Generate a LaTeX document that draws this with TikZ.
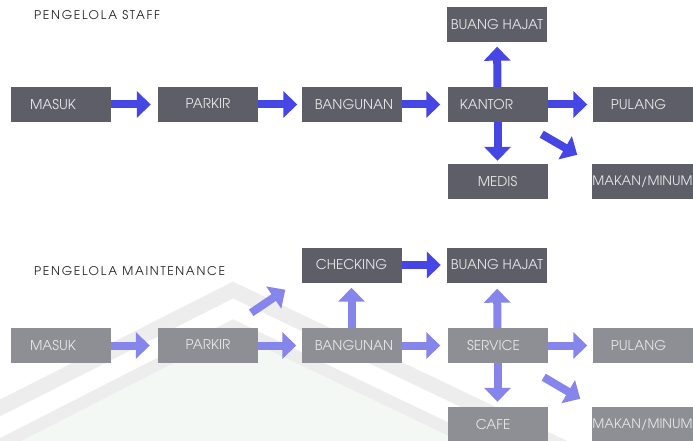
\documentclass[tikz,border=0pt]{standalone}
\usepackage{fontspec}
\setmainfont{texgyreadventor-regular.otf}
\usetikzlibrary{arrows.meta}
\definecolor{boxdark}{HTML}{5E5E69}
\definecolor{boxlight}{HTML}{8E8E95}
\definecolor{arrdark}{HTML}{4646E4}
\definecolor{arrlight}{HTML}{8585EC}
\definecolor{wmgray}{HTML}{EDEDED}
\definecolor{wmgreen}{HTML}{F3F8F5}
\begin{document}
\begin{tikzpicture}[x=1pt,y=-1pt,
  box/.style={fill=boxdark, minimum width=100pt, minimum height=35pt, inner sep=0pt,
    text=white!90!black, font=\fontsize{13.5}{15}\selectfont},
  lbox/.style={box, fill=boxlight},
  wide/.style={font=\fontsize{13}{15}\selectfont},
  flow/.style={draw=arrdark, line width=8pt, -{Triangle[length=14pt,width=26pt]}},
  lflow/.style={flow, draw=arrlight},
  heading/.style={font=\fontsize{12}{14}\selectfont\addfontfeatures{LetterSpace=14},
    text=black!85, anchor=base west, inner sep=0pt}]

\useasboundingbox (0,0) rectangle (693,441);
\fill[white] (0,0) rectangle (693,441);

% faint logo in the background of the lower chart
\begin{scope}
  \clip (0,0) rectangle (693,441);
  \fill[wmgreen] (-10,455) -- (233,330) -- (705,555) -- (705,460) -- (-10,460) -- cycle;
  \draw[wmgray, line width=15pt] (-10,413) -- (233,290) -- (705,515);
  \draw[wmgray, line width=12pt] (-10,450) -- (233,326) -- (705,552);
\end{scope}

% staff flow
\node[heading] (t1) at (34,20) {PENGELOLA STAFF};
\node[box] (m1) at (61,104.5) {\raisebox{-2pt}{MASUK}\hspace*{16pt}};
\node[box] (p1) at (208,104.5) {\raisebox{1pt}{PARKIR}};
\node[box] (b1) at (351.5,104.5) {\hspace*{5pt}BANGUNAN};
\node[box] (k1) at (497.5,104.5) {KANTOR\hspace*{22pt}};
\node[box] (h1) at (497,25) {BUANG HAJAT};
\node[box] (d1) at (497.5,181.5) {MEDIS};
\node[box] (u1) at (642.5,104.5) {PULANG\hspace*{8pt}};
\node[box, wide] (n1) at (642.5,181.5) {MAKAN/MINUM};

\draw[flow, shorten >=7pt] (m1) -- (p1);
\draw[flow, shorten >=4pt] (p1) -- (b1);
\draw[flow, shorten >=7pt] (b1) -- (k1);
\draw[flow, shorten >=5pt] (k1) -- (u1);
\draw[flow, shorten >=4pt] (k1) -- (h1);
\draw[flow, shorten >=3pt] (k1) -- (d1);
\draw[flow] ([shift={(-6,12)}]k1.south east) -- ([shift={(-15,-9)}]n1.north west);

% maintenance flow
\node[heading] (t2) at (34,275) {PENGELOLA MAINTENANCE};
\node[box] (c2) at (351.5,265) {CHECKING};
\node[box] (h2) at (497,265) {BUANG HAJAT};
\node[lbox] (m2) at (61,345.5) {\raisebox{-2pt}{MASUK}\hspace*{16pt}};
\node[lbox] (p2) at (208,345.5) {\raisebox{1pt}{PARKIR}};
\node[lbox] (b2) at (351.5,345.5) {\hspace*{5pt}BANGUNAN};
\node[lbox] (s2) at (497.5,345.5) {SERVICE\hspace*{8pt}};
\node[lbox] (u2) at (642.5,345.5) {PULANG\hspace*{8pt}};
\node[lbox] (f2) at (497.5,424.5) {CAFE\hspace*{9pt}};
\node[lbox, wide] (n2) at (642.5,424.5) {MAKAN/MINUM};

\draw[lflow, shorten >=8pt] (m2) -- (p2);
\draw[lflow, shorten >=5pt] (p2) -- (b2);
\draw[lflow, shorten >=7pt] (b2) -- (s2);
\draw[lflow, shorten >=5pt] (s2) -- (u2);
\draw[lflow, shorten >=5pt] (b2) -- (c2);
\draw[lflow, shorten >=6pt] (s2) -- (h2);
\draw[lflow, shorten >=5pt] (s2) -- (f2);
\draw[lflow] ([shift={(-7,-15)}]p2.north east) -- ([shift={(-16,7)}]c2.south west);
\draw[lflow] ([shift={(-4,14)}]s2.south east) -- ([shift={(-12,-8)}]n2.north west);
\draw[flow, shorten >=6pt] (c2) -- (h2);
\end{tikzpicture}
\end{document}
